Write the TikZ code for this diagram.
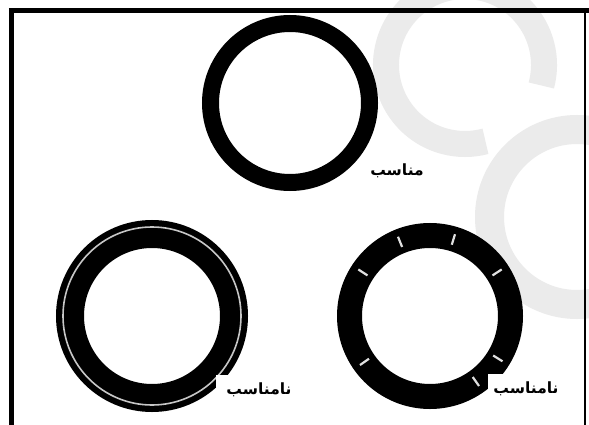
\documentclass[tikz,border=0pt]{standalone}
\usepackage{fontspec}
\newfontfamily\arabicfont[Script=Arabic]{DejaVu Sans}
\TeXXeTstate=1
\begin{document}
\begin{tikzpicture}[x=1pt,y=-1pt,
  ringband/.style={draw=black, line width=#1},
  wm/.style={draw=black!8, line width=#1},
  tickmark/.style={draw=white!88!black, line width=2.2pt},
  lbl/.style={fill=white, font=\arabicfont\bfseries\fontsize{15.5}{17}\selectfont, inner ysep=8pt},
  frameline/.style={draw=black, line width=#1}]
\useasboundingbox (0,0) rectangle (589,425);
\clip (0,0) rectangle (589,425);
\fill[white] (0,0) rectangle (589,425);
% watermark
\draw[wm=26pt] ([shift={(465,65)}]15:79) arc[start angle=15, end angle=-285, radius=79];
\draw[wm=29pt] (577,217) circle[radius=87.5];
% top ring (suitable)
\draw[ringband=17pt] (290,103) circle[radius=79.5];
% bottom-left ring with inner line
\draw[ringband=28pt] (152,316) circle[radius=82];
\draw[draw=black!22, line width=1.6pt] (152,316) circle[radius=89];
% bottom-right ring with ticks
\draw[ringband=25pt] (430,316) circle[radius=80.5];
\begin{scope}[shift={(430,316)}]
  \foreach \a in {-112,-73,-147,-33,145,32,55}
    \draw[tickmark] (\a:74.5) -- (\a:85.5);
\end{scope}
% labels
\node[lbl, inner xsep=9pt] (l1) at (397,171) {\beginR مناسب\endR};
\node[lbl, inner xsep=10pt] (l2) at (259,390) {\beginR نامناسب\endR};
\node[lbl, inner xsep=5pt] (l3) at (526,389) {\beginR نامناسب\endR};
% frame
\draw[frameline=5.5pt] (11.5,8.75) -- (11.5,425);
\draw[frameline=5pt] (8.75,11) -- (589,11);
\draw[frameline=2.5pt] (585,11) -- (585,425);
\end{tikzpicture}
\end{document}
